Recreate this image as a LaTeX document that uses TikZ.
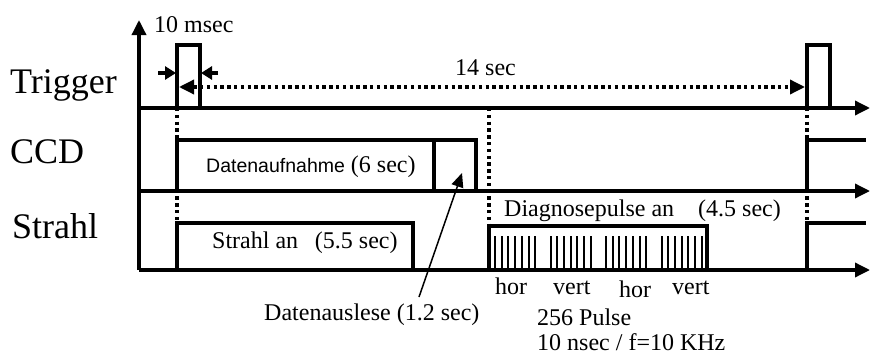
\documentclass[tikz,border=0pt]{standalone}
\usepackage{fontspec}
\setmainfont{Liberation Serif}
\setsansfont{Liberation Sans}
\usetikzlibrary{arrows.meta}

\begin{document}
\begin{tikzpicture}[
    x=1pt,
    y=-1pt,
    signal/.style={draw=black, line width=3.4pt, line join=miter},
    time axis/.style={draw=black, line width=3.4pt, -{Triangle[length=15pt, width=14pt]}},
    marker/.style={draw=black, line width=3.4pt, dash pattern=on 3.4pt off 3.4pt},
    span arrow/.style={draw=black, line width=3.4pt, dash pattern=on 3.4pt off 3.4pt,
      {Triangle[length=15pt, width=14pt]}-{Triangle[length=15pt, width=14pt]}},
    width arrow/.style={draw=black, line width=3.4pt, -{Triangle[length=11pt, width=13pt]}},
    read arrow/.style={draw=black, line width=1.5pt, -{Triangle[length=14pt, width=12pt]}},
    pulse bar/.style={draw=black, line width=2pt},
    channel label/.style={font=\fontsize{36}{40}\selectfont, anchor=base west, inner sep=0pt},
    note label/.style={font=\fontsize{24}{28}\selectfont, anchor=base west, inner sep=0pt}
]

\useasboundingbox (0,0) rectangle (870,356);

% Time axes of the three channels.
\coordinate (Origin) at (139,270);
\coordinate (AxisTop) at (139,20);
\coordinate (TrigStart) at (139,108);
\coordinate (TrigEnd) at (870,108);
\coordinate (CcdStart) at (139,191);
\coordinate (CcdEnd) at (870,191);
\coordinate (BeamEnd) at (870,270);

\draw[time axis] (Origin) -- (AxisTop);
\draw[time axis] (TrigStart) -- (TrigEnd);
\draw[time axis] (CcdStart) -- (CcdEnd);
\draw[time axis] (Origin) -- (BeamEnd);

% Trigger pulses, 14 sec apart.
\draw[signal] (177,108) -- (177,45) -- (200,45) -- (200,108);
\draw[signal] (807,108) -- (807,45) -- (830,45) -- (830,108);

% CCD: data taking and read-out.
\draw[signal] (177,191) -- (177,140) -- (476,140) -- (476,191);
\draw[signal] (434,140) -- (434,191);
\draw[signal] (807,191) -- (807,140) -- (866,140);

% Beam on, then diagnostic pulses.
\draw[signal] (177,270) -- (177,223) -- (413,223) -- (413,270);
\draw[signal] (489,270) -- (489,226) -- (707,226) -- (707,270);
\draw[signal] (807,270) -- (807,223) -- (866,223);
\foreach \g in {0,...,3}
  \foreach \b in {0,...,6}
    \draw[pulse bar] ({495+55.5*\g+6.7*\b},236) -- ++(0,34);

% Dotted markers through all channels.
\draw[marker] (177,108) -- (177,270);
\draw[marker] (489,108) -- (489,226);
\draw[marker] (807,108) -- (807,270);

% Pulse width and period.
\coordinate (WidthL) at (158,73);
\coordinate (WidthLTip) at (176,73);
\coordinate (WidthR) at (218,73);
\coordinate (WidthRTip) at (201,73);
\coordinate (PeriodL) at (179,87);
\coordinate (PeriodR) at (805,87);
\draw[width arrow] (WidthL) -- (WidthLTip);
\draw[width arrow] (WidthR) -- (WidthRTip);
\draw[span arrow] (PeriodL) -- (PeriodR);

% Channel names.
\node[channel label] (trigLbl) at (10,93) {Trigger};
\node[channel label] (ccdLbl) at (10,163) {CCD};
\node[channel label] (beamLbl) at (12,238) {Strahl};

% Annotations.
\node[note label] (msecLbl) at (154,32) {10 msec};
\node[note label] (periodLbl) at (455,75) {14 sec};
\node[note label] (takeLbl) at (206,172)
  {{\sffamily\fontsize{19.5}{22}\selectfont Datenaufnahme} (6 sec)};
\node[note label] (beamOnLbl) at (212,248) {Strahl an\hspace{0.7em}(5.5 sec)};
\node[note label] (diagLbl) at (504,216) {Diagnosepulse an\hspace{1em}(4.5 sec)};
\node[note label] (readLbl) at (264,320) {Datenauslese (1.2 sec)};
\node[note label] (hor1Lbl) at (495,294) {hor};
\node[note label] (vert1Lbl) at (553,294) {vert};
\node[note label] (hor2Lbl) at (619,297) {hor};
\node[note label] (vert2Lbl) at (672,294) {vert};
\node[note label] (countLbl) at (537,325) {256 Pulse};
\node[note label] (rateLbl) at (537,350) {10 nsec / f=10 KHz};

% Read-out pointer.
\coordinate (ReadTail) at (419,297);
\coordinate (ReadTip) at (462,173);
\draw[read arrow] (ReadTail) -- (ReadTip);

\end{tikzpicture}
\end{document}
